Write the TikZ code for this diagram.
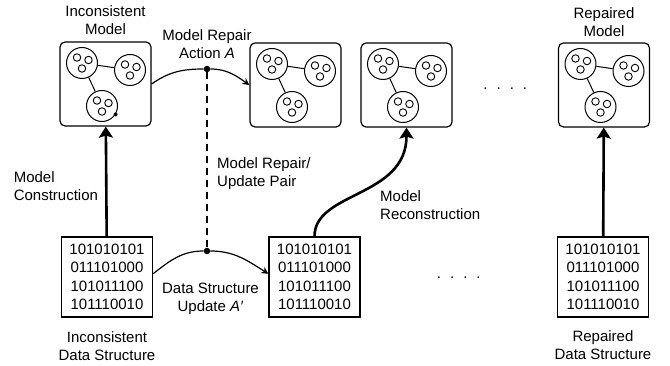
\documentclass[tikz,border=0pt]{standalone}
\usepackage{fontspec}
\setmainfont{Liberation Sans}
\usepackage{tikz}
\usetikzlibrary{arrows.meta, positioning, calc}
\tikzstyle{model} = [rectangle, rounded corners=5pt, minimum width=91pt, minimum height=84pt, draw, line width=1.2pt]
\tikzstyle{datastruct} = [rectangle, minimum width=91pt, minimum height=80pt, inner sep=0pt, align=center, draw, line width=1.2pt, font=\fontsize{15}{18.4}\selectfont]
\tikzstyle{cluster} = [circle, minimum size=31pt, inner sep=0pt, draw, line width=1pt]
\tikzstyle{element} = [circle, minimum size=7.5pt, inner sep=0pt, draw, line width=0.9pt]
\tikzstyle{junction} = [circle, minimum size=6.5pt, inner sep=0pt, fill=black]
\tikzstyle{flaw} = [circle, minimum size=4pt, inner sep=0pt, fill=black]
\tikzstyle{caption} = [align=center, inner sep=1pt]
\tikzstyle{buildarrow} = [line width=2.6pt, -{Stealth[length=11pt, width=14pt, inset=2pt]}]
\tikzstyle{repairarrow} = [line width=1.2pt, -{Stealth[length=7pt, width=7pt]}]
\tikzstyle{pairline} = [line width=2pt, dash pattern=on 7pt off 5pt]
\newcommand{\spaceddots}{.\hspace{9pt}.\hspace{9pt}.\hspace{9pt}.}

\begin{document}
\begin{tikzpicture}[x=1pt, y=1pt, node distance=6pt, font=\fontsize{15}{18}\selectfont]
    \useasboundingbox (0,0) rectangle (670,366);

    % Models
    \node (incmodel) [model] at (105.5,282) {};
    \node (repmodel1) [model] at (295.5,281) {};
    \node (repmodel2) [model] at (406.5,281) {};
    \node (repmodel) [model] at (604,281) {};

    \foreach \m in {incmodel, repmodel1, repmodel2, repmodel} {
        \node (\m-a) [cluster] at ($(\m.center)+(-23.5,21)$) {};
        \node (\m-b) [cluster] at ($(\m.center)+(24.5,14)$) {};
        \node (\m-c) [cluster] at ($(\m.center)+(-3.5,-22)$) {};
        \draw [line width=1pt] (\m-a) -- (\m-b);
        \draw [line width=1pt] (\m-a) -- (\m-c);
        \foreach \c in {a, b, c} {
            \node (\m-\c-1) [element] at ($(\m-\c)+(-5,5.5)$) {};
            \node (\m-\c-2) [element] at ($(\m-\c)+(6.5,3)$) {};
            \node (\m-\c-3) [element] at ($(\m-\c)+(0,-5.5)$) {};
        }
    }
    \node (incflaw) [flaw] at (incmodel-c.-32) {};

    % Data structures
    \node (incdata) [datastruct] at (107,89) {101010101\\011101000\\101011100\\101110010};
    \node (repdata1) [datastruct] at (314.5,89) {101010101\\011101000\\101011100\\101110010};
    \node (repdata) [datastruct] at (603,89) {101010101\\011101000\\101011100\\101110010};

    % Captions
    \node (incmodellabel) [caption, above=5.5pt of incmodel] {Inconsistent\\Model};
    \node (repmodellabel) [caption, above=5pt of repmodel] {Repaired\\Model};
    \node (incdatalabel) [caption, below=13pt of incdata] {Inconsistent\\Data Structure};
    \node (repdatalabel) [caption, below=11.5pt of repdata] {Repaired\\Data Structure};

    % Repair / update pair
    \node (topdot) [junction] at (207,297) {};
    \node (botdot) [junction] at (207,115) {};
    \draw [pairline] (topdot) -- (botdot);
    \draw [repairarrow] (incmodel.east) to[out=35, in=180] (topdot) to[out=0, in=145] (repmodel1.west);
    \draw [repairarrow] (incdata.4) to[out=38, in=180] (botdot) to[out=0, in=148] (repdata1.176);
    \node (repairlabel) [caption, above=6pt of topdot] {Model Repair\\Action \textit{A}};
    \node (updatelabel) [caption, below=27pt of botdot, xshift=3.5pt] {Data Structure\\Update \textit{A′}};
    \node (pairlabel) [caption, align=left, anchor=west, xshift=9pt] at ($(topdot)!0.574!(botdot)$) {Model Repair/\\Update Pair};

    % Construction arrows
    \draw [buildarrow] (incdata) -- node (constrlabel) [caption, align=left, pos=0.46, left=6pt] {Model\\Construction} (incmodel);
    \draw [buildarrow] (repdata) -- (repmodel);
    \draw [buildarrow] (repdata1.north) .. controls +(0,45) and +(0,-70) .. (repmodel2.south);
    \node (reconlabel) [caption, align=left, anchor=west] at (379,161) {Model\\Reconstruction};

    % Elided steps
    \node (topdots) [yshift=-4pt] at ($(repmodel2)!0.5!(repmodel)$) {\spaceddots};
    \node (bottomdots) [yshift=-1pt] at ($(repdata1)!0.5!(repdata)$) {\spaceddots};
\end{tikzpicture}
\end{document}
